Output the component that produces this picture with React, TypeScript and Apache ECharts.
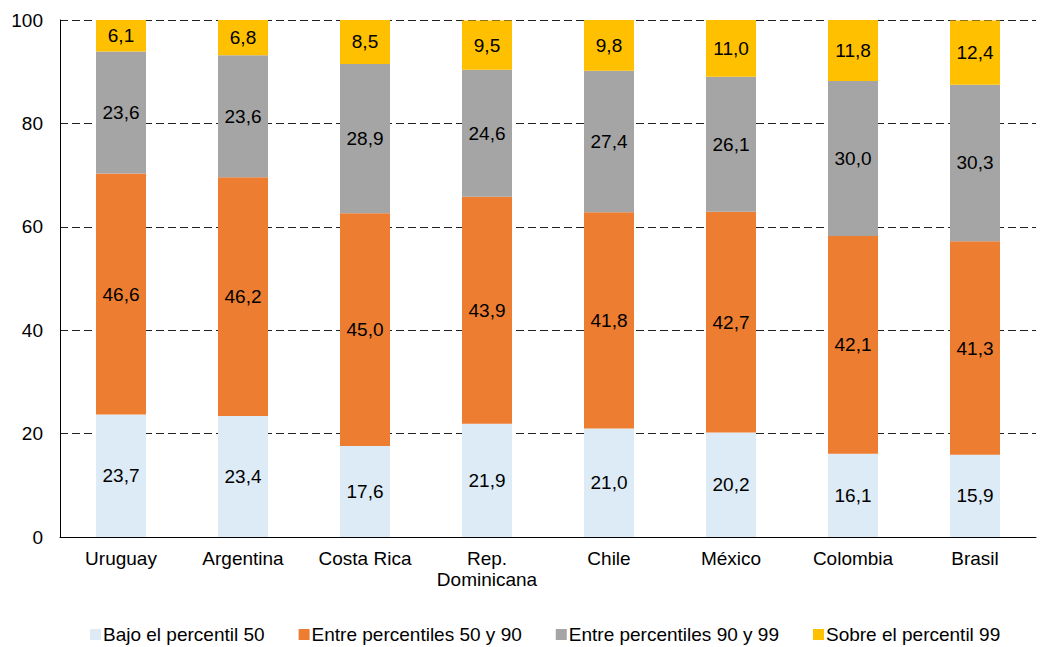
import React, { useEffect, useRef } from "react";
import * as echarts from "echarts";

const categories = ["Uruguay", "Argentina", "Costa Rica", "Rep.\nDominicana", "Chile", "México", "Colombia", "Brasil"];
const bajo50 = [23.7, 23.4, 17.6, 21.9, 21.0, 20.2, 16.1, 15.9];
const entre50y90 = [46.6, 46.2, 45.0, 43.9, 41.8, 42.7, 42.1, 41.3];
const entre90y99 = [23.6, 23.6, 28.9, 24.6, 27.4, 26.1, 30.0, 30.3];
const sobre99 = [6.1, 6.8, 8.5, 9.5, 9.8, 11.0, 11.8, 12.4];
const seriesNames = ["Bajo el percentil 50", "Entre percentiles 50 y 90", "Entre percentiles 90 y 99", "Sobre el percentil 99"];
const colors = ["#DDEBF7", "#ED7D31", "#A5A5A5", "#FFC000"];

const FONT = "'Liberation Sans', Arial, sans-serif";
const FS = 19;

export default function App() {
  const ref = useRef<HTMLDivElement>(null);
  useEffect(() => {
    if (!ref.current) return;
    const chart = echarts.init(ref.current, undefined, { renderer: "svg" });
    const datasets = [bajo50, entre50y90, entre90y99, sobre99];
    chart.setOption({
      animation: false,
      textStyle: { fontFamily: FONT },
      grid: { left: 60, right: 11, top: 20, bottom: 110 },
      legend: {
        top: 625,
        left: 90,
        padding: 0,
        itemWidth: 11,
        itemHeight: 11,
        itemGap: 34,
        icon: "rect",
        textStyle: { fontSize: FS, color: "#000", fontFamily: FONT, padding: [0, 0, 0, -3] },
        data: seriesNames,
      },
      xAxis: {
        type: "category",
        data: categories,
        axisLine: { lineStyle: { color: "#000", width: 1 } },
        axisTick: { show: false },
        axisLabel: { interval: 0, fontSize: FS, color: "#000", margin: 11, lineHeight: 21, fontFamily: FONT },
      },
      yAxis: {
        type: "value",
        min: 0,
        max: 100,
        interval: 20,
        axisLine: { show: true, lineStyle: { color: "#000", width: 1 } },
        axisTick: { show: false },
        axisLabel: { fontSize: FS, color: "#000", margin: 17, fontFamily: FONT },
        splitLine: { lineStyle: { color: "#222", type: [8, 4], width: 1 } },
      },
      series: datasets.map((d, i) => ({
        name: seriesNames[i],
        type: "bar",
        stack: "total",
        barWidth: 50,
        data: d,
        itemStyle: { color: colors[i] },
        label: {
          show: true,
          position: "inside",
          color: "#000",
          fontSize: FS,
          fontFamily: FONT,
          formatter: (p: any) => Number(p.value).toFixed(1).replace(".", ","),
        },
      })),
    });
    return () => chart.dispose();
  }, []);
  return <div ref={ref} style={{ width: 1047, height: 647, position: "absolute", left: 0, top: 0 }} />;
}
